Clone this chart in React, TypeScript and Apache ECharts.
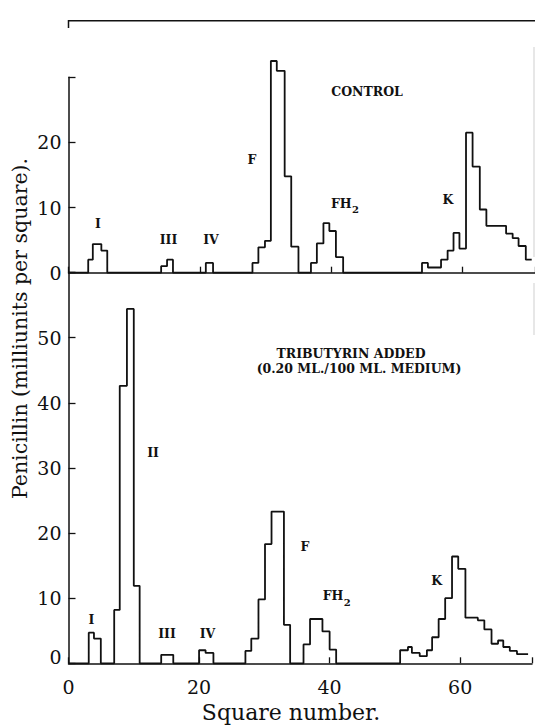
import React, { useEffect, useRef } from "react";
import * as echarts from "echarts";

// Control panel: step edges (square number) and level (milliunits per square) from each edge
const controlEdges = [0, 3.0, 3.7, 5.0, 5.9, 14.1, 15.0, 15.9, 20.9, 22.0, 28.0, 28.9, 29.9, 30.8, 31.7, 32.9, 33.9, 35.0, 36.9, 37.8, 38.8, 39.7, 40.7, 41.8, 53.8, 54.7, 56.7, 57.7, 58.6, 59.5, 60.5, 61.5, 62.6, 63.6, 66.6, 67.6, 68.5, 69.6, 70.5];
const controlValues = [0, 2.0, 4.4, 3.4, 0, 1.0, 2.0, 0, 1.5, 0, 1.5, 3.9, 4.9, 32.5, 31.0, 14.8, 4.0, 0, 1.5, 4.5, 7.6, 6.4, 2.4, 0, 1.5, 0.8, 2.0, 3.4, 6.1, 3.7, 21.5, 16.3, 9.7, 7.2, 6.0, 5.3, 4.1, 2.0, 2.0];

// Tributyrin added panel
const tribEdges = [0, 3.1, 3.9, 4.95, 7.0, 7.85, 8.95, 10.0, 10.9, 14.2, 16.05, 20.0, 21.0, 22.2, 27.1, 28.0, 29.1, 30.1, 31.1, 33.0, 33.95, 36.0, 37.0, 38.9, 40.0, 41.0, 50.8, 52.0, 52.6, 53.8, 54.9, 55.7, 56.7, 57.7, 58.75, 59.7, 60.8, 62.7, 63.7, 64.8, 65.8, 66.6, 67.6, 68.7, 70.4];
const tribValues = [0, 4.7, 3.8, 0, 8.2, 42.6, 54.4, 11.9, 0, 1.3, 0, 2.0, 1.6, 0, 1.9, 3.8, 9.8, 18.3, 23.3, 5.9, 0, 2.9, 6.8, 4.9, 2.1, 0, 2.0, 2.5, 1.6, 1.1, 2.0, 4.0, 6.8, 10.0, 16.4, 14.5, 7.0, 6.6, 5.2, 3.0, 3.5, 2.5, 1.9, 1.4, 1.4];

const xTicks = [0, 20, 40, 60];
const topYTicks = [0, 10, 20];
const bottomYTicks = [0, 10, 20, 30, 40, 50];

const SERIF = "DejaVu Serif";
const INK = "#111";

function label(text: string, x: number, y: number, size = 12.5, align = "center") {
  return {
    type: "text",
    x,
    y,
    silent: true,
    style: {
      text,
      x: 0,
      y: 0,
      fill: INK,
      font: `bold ${size}px "${SERIF}"`,
      align,
      textAlign: align,
      verticalAlign: "middle",
      textVerticalAlign: "middle",
    },
  };
}

export default function App() {
  const ref = useRef<HTMLDivElement>(null);

  useEffect(() => {
    if (!ref.current) return;
    const chart = echarts.init(ref.current, null, { renderer: "svg" });

    const axisLineStyle = { color: INK, width: 1.5 };
    const tickStyle = { color: INK, width: 1.3 };
    const labelFont = { fontFamily: SERIF, fontSize: 19, color: INK };

    const option = {
      animation: false,
      backgroundColor: "#fff",
      grid: [
        { left: 68.5, right: 0, top: 77.3, height: 195.4 },
        { left: 68.5, right: 0, top: 272.5, height: 390.8 },
      ],
      xAxis: [
        {
          gridIndex: 0,
          type: "value",
          min: 0,
          max: 71,
          interval: 20,
          axisLine: { show: true, lineStyle: axisLineStyle },
          axisTick: { show: true, inside: true, length: 6, lineStyle: tickStyle },
          axisLabel: { show: false },
          splitLine: { show: false },
        },
        {
          gridIndex: 1,
          type: "value",
          min: 0,
          max: 71,
          interval: 20,
          axisLine: { show: true, lineStyle: axisLineStyle },
          axisTick: { show: true, inside: true, length: 6, lineStyle: tickStyle },
          axisLabel: {
            show: true,
            margin: 14,
            ...labelFont,
            formatter: (v: number) => (xTicks.includes(v) ? String(v) : ""),
          },
          splitLine: { show: false },
        },
      ],
      yAxis: [
        {
          gridIndex: 0,
          type: "value",
          min: 0,
          max: 30,
          interval: 10,
          axisLine: { show: true, lineStyle: axisLineStyle },
          axisTick: { show: true, inside: true, length: 7, lineStyle: tickStyle },
          axisLabel: {
            show: true,
            margin: 7,
            ...labelFont,
            formatter: (v: number) => (topYTicks.includes(v) ? String(v) : ""),
          },
          splitLine: { show: false },
        },
        {
          gridIndex: 1,
          type: "value",
          min: 0,
          max: 60,
          interval: 10,
          axisLine: { show: true, lineStyle: axisLineStyle },
          axisTick: { show: true, inside: true, length: 7, lineStyle: tickStyle },
          axisLabel: {
            show: true,
            margin: 7,
            ...labelFont,
            formatter: (v: number) =>
              v === 0 ? "{z|0}" : bottomYTicks.includes(v) ? String(v) : "",
            rich: {
              z: { ...labelFont, padding: [0, 0, 12, 0] },
            },
          },
          splitLine: { show: false },
        },
      ],
      series: [
        {
          type: "line",
          xAxisIndex: 0,
          yAxisIndex: 0,
          step: "end",
          symbol: "none",
          clip: false,
          silent: true,
          lineStyle: { color: INK, width: 1.8 },
          data: controlEdges.map((x, i) => [x, controlValues[i]]),
        },
        {
          type: "line",
          xAxisIndex: 1,
          yAxisIndex: 1,
          step: "end",
          symbol: "none",
          clip: false,
          silent: true,
          lineStyle: { color: INK, width: 1.8 },
          data: tribEdges.map((x, i) => [x, tribValues[i]]),
        },
      ],
      graphic: [
        {
          type: "polyline",
          silent: true,
          shape: { points: [[68.5, 28], [68.5, 20.7], [535, 20.7]] },
          style: { stroke: INK, lineWidth: 1.5, fill: null },
        },
        {
          type: "line",
          silent: true,
          shape: { x1: 534, y1: 47, x2: 534, y2: 257 },
          style: { stroke: "#cfcfcf", lineWidth: 1 },
        },
        {
          type: "line",
          silent: true,
          shape: { x1: 534, y1: 283, x2: 534, y2: 335 },
          style: { stroke: "#cfcfcf", lineWidth: 1 },
        },
        {
          type: "text",
          x: 20,
          y: 328.5,
          rotation: Math.PI / 2,
          silent: true,
          style: {
            text: "Penicillin (milliunits per square).",
            fill: INK,
            font: `20.5px "${SERIF}"`,
            align: "center",
            textAlign: "center",
            verticalAlign: "middle",
            textVerticalAlign: "middle",
          },
        },
        {
          type: "text",
          x: 291,
          y: 712,
          silent: true,
          style: {
            text: "Square number.",
            fill: INK,
            font: `22px "${SERIF}"`,
            align: "center",
            textAlign: "center",
            verticalAlign: "middle",
            textVerticalAlign: "middle",
          },
        },
        // top panel labels
        label("CONTROL", 367, 91, 12.5),
        label("I", 98, 223),
        label("III", 168.5, 239),
        label("IV", 211, 239),
        label("F", 252, 159),
        label("FH", 331, 203, 12.5, "left"),
        label("2", 352, 209, 10, "left"),
        label("K", 448, 199),
        // bottom panel labels
        label("TRIBUTYRIN ADDED", 351, 353.5, 12.5),
        label("(0.20 ML./100 ML. MEDIUM)", 359, 368.5, 12.5),
        label("II", 153, 452.5),
        label("I", 91.5, 619),
        label("III", 167, 633),
        label("IV", 207.5, 633),
        label("F", 305, 546),
        label("FH", 322.7, 595.3, 12.5, "left"),
        label("2", 343.7, 602, 10, "left"),
        label("K", 436.7, 580),
      ],
    };

    chart.setOption(option as any);
    return () => chart.dispose();
  }, []);

  return (
    <div
      ref={ref}
      style={{ position: "absolute", left: 0, top: 0, width: 535, height: 727, background: "#fff" }}
    />
  );
}
